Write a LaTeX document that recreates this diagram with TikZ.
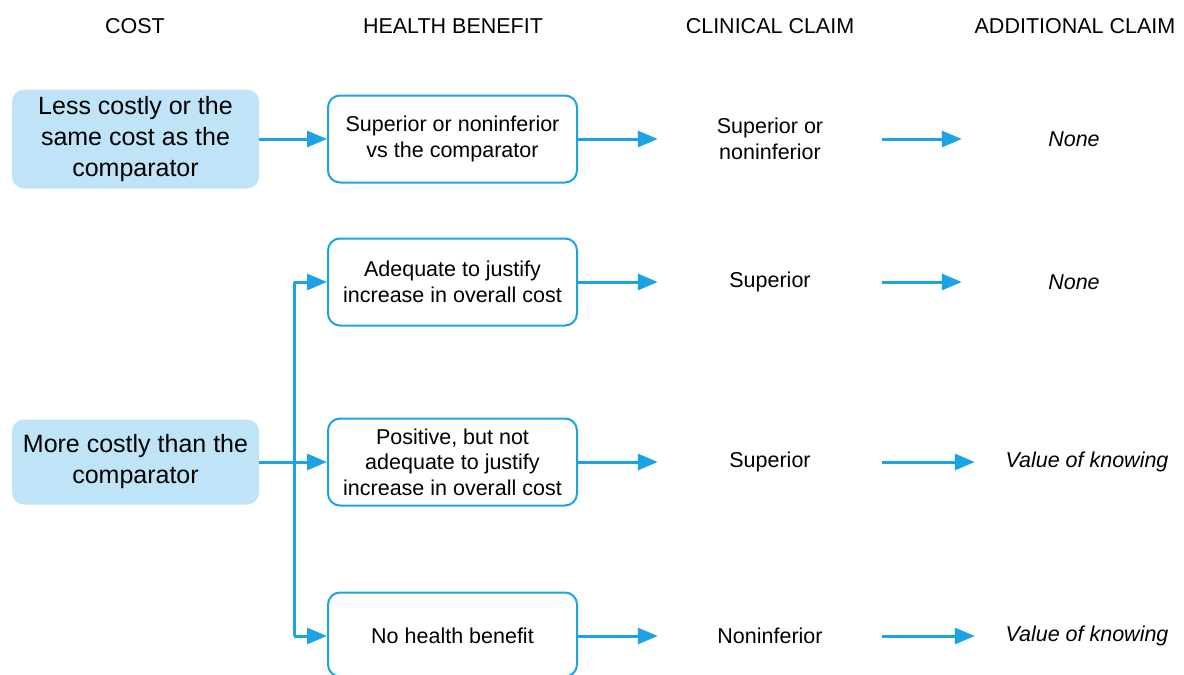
\documentclass[tikz,border=0pt]{standalone}
\usepackage{fontspec}
\setmainfont{Liberation Sans}
\usetikzlibrary{arrows.meta}
\definecolor{flowblue}{HTML}{1BA3E3}
\definecolor{costfill}{HTML}{BFE4F7}
\tikzset{
  costbox/.style={fill=costfill, rounded corners=12pt, minimum width=247pt,
    align=center, font=\fontsize{25}{31}\selectfont, inner sep=0pt},
  benefitbox/.style={draw=flowblue, line width=2pt, rounded corners=12pt, fill=white,
    minimum width=249pt, minimum height=87pt, align=center,
    font=\fontsize{21.5}{25.5}\selectfont, inner sep=0pt},
  claim/.style={minimum width=224pt, align=center, inner sep=0pt,
    font=\fontsize{21.5}{26}\selectfont},
  extra/.style={claim, font=\fontsize{21.5}{26}\selectfont\itshape},
  header/.style={font=\fontsize{21.5}{24}\selectfont, inner sep=0pt},
  flow/.style={draw=flowblue, line width=3pt,
    -{Triangle[length=20pt,width=16pt]}},
  trunk/.style={draw=flowblue, line width=3pt}
}
\begin{document}
\begin{tikzpicture}[x=1pt,y=-1pt]
\useasboundingbox (0,0) rectangle (1184,675);

% column headings
\node[header] (hcost)  at (135,26)  {COST};
\node[header] (hben)   at (453,26)  {HEALTH BENEFIT};
\node[header] (hclin)  at (770,26)  {CLINICAL CLAIM};
\node[header] (hadd)   at (1075,26) {ADDITIONAL CLAIM};

% cost situations
\node[costbox, minimum height=99pt] (c1) at (135.5,139)
  {Less costly or the\\same cost as the\\comparator};
\node[costbox, minimum height=85pt] (c2) at (135.5,462)
  {More costly than the\\comparator};

% health benefit outcomes
\node[benefitbox] (b1) at (452.5,139) {Superior or noninferior\\vs the comparator};
\node[benefitbox] (b2) at (452.5,282) {Adequate to justify\\increase in overall cost};
\node[benefitbox] (b3) at (452.5,462) {Positive, but not\\adequate to justify\\increase in overall cost};
\node[benefitbox, minimum height=84pt] (b4) at (452.5,634.5) {};
\node[font=\fontsize{21.5}{25.5}\selectfont] (b4t) at (452.5,636) {No health benefit};

% clinical claims
\node[claim] (k1) at (770,139) {Superior or\\noninferior};
\node[claim] (k2) at (770,282) {Superior};
\node[claim] (k3) at (770,462) {Superior};
\node[claim] (k4) at (770,636) {Noninferior};

% additional claims
\node[extra] (a1) at (1074,139) {None};
\node[extra] (a2) at (1074,282) {None};
\node[extra] (a3) at (1087,462) {Value of knowing};
\node[extra] (a4) at (1087,636) {Value of knowing};

% cost -> health benefit
\draw[flow] (c1.east) -- (b1.west);
\draw[flow] (c2.east) -- (b3.west);
\coordinate (j) at (294,462);
\draw[trunk] (j |- b2.west) -- (j |- b4t);
\draw[flow] (j |- b2.west) -- (b2.west);
\draw[flow] (j |- b4t) -- (b4.west |- b4t);

% health benefit -> clinical claim
\draw[flow] (b1.east) -- (k1.west);
\draw[flow] (b2.east) -- (k2.west);
\draw[flow] (b3.east) -- (k3.west);
\draw[flow] (b4.east |- b4t) -- (k4.west);

% clinical claim -> additional claim
\draw[flow] (k1.east) -- (a1.west);
\draw[flow] (k2.east) -- (a2.west);
\draw[flow] (k3.east) -- (a3.west);
\draw[flow] (k4.east) -- (a4.west);
\end{tikzpicture}
\end{document}
